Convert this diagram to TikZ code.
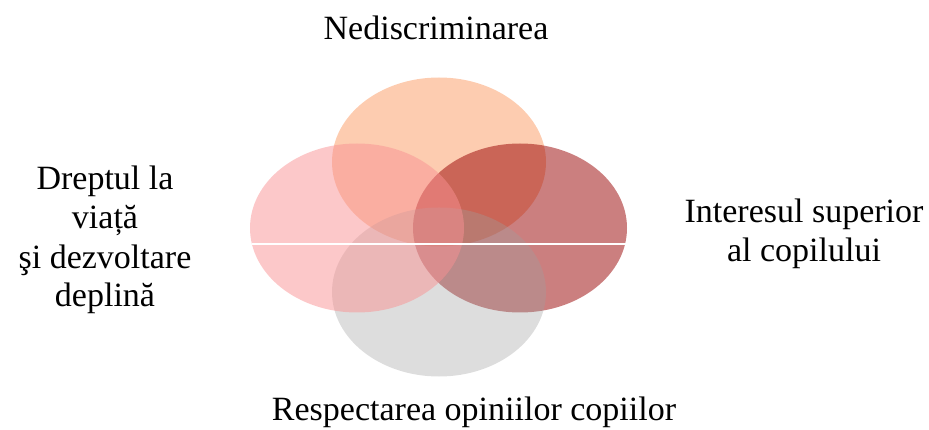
\documentclass[tikz,border=0pt]{standalone}
\usepackage{fontspec}
\setmainfont{Liberation Serif}
\usepackage{tikz}

\definecolor{peach}{RGB}{251,153,97}
\definecolor{rosy}{RGB}{249,145,147}
\definecolor{wine}{RGB}{151,0,0}
\definecolor{smoke}{RGB}{158,158,158}

\tikzset{
  blob/.style={fill opacity=0.5},
  label/.style={font=\fontsize{34}{39}\selectfont, align=center, anchor=base, inner sep=0pt}
}

\begin{document}
\begin{tikzpicture}[x=1pt, y=-1pt]
    \useasboundingbox (0,0) rectangle (929,430);
    % the four circles
    \fill [peach, blob] (439,162) circle [x radius=107, y radius=84.5];
    \fill [wine, blob] (520,228) circle [x radius=107, y radius=84.5];
    \fill [smoke, fill opacity=0.35] (439,292) circle [x radius=107, y radius=84.5];
    \fill [rosy, blob] (357,228) circle [x radius=107, y radius=84.5];
    \coordinate (cutl) at (252,244);
    \coordinate (cutr) at (626,244);
    \draw [white, line width=1.2pt] (cutl) -- (cutr);
    % the labels
    \node [label] (top) at (436,40) {Nediscriminarea};
    \node [label] (left) at (105,307) {Dreptul la\\ viață\\ şi dezvoltare\\ deplină};
    \node [label] (right) at (804,262) {Interesul superior\\ al copilului};
    \node [label] (bottom) at (474,420) {Respectarea opiniilor copiilor};
\end{tikzpicture}
\end{document}
